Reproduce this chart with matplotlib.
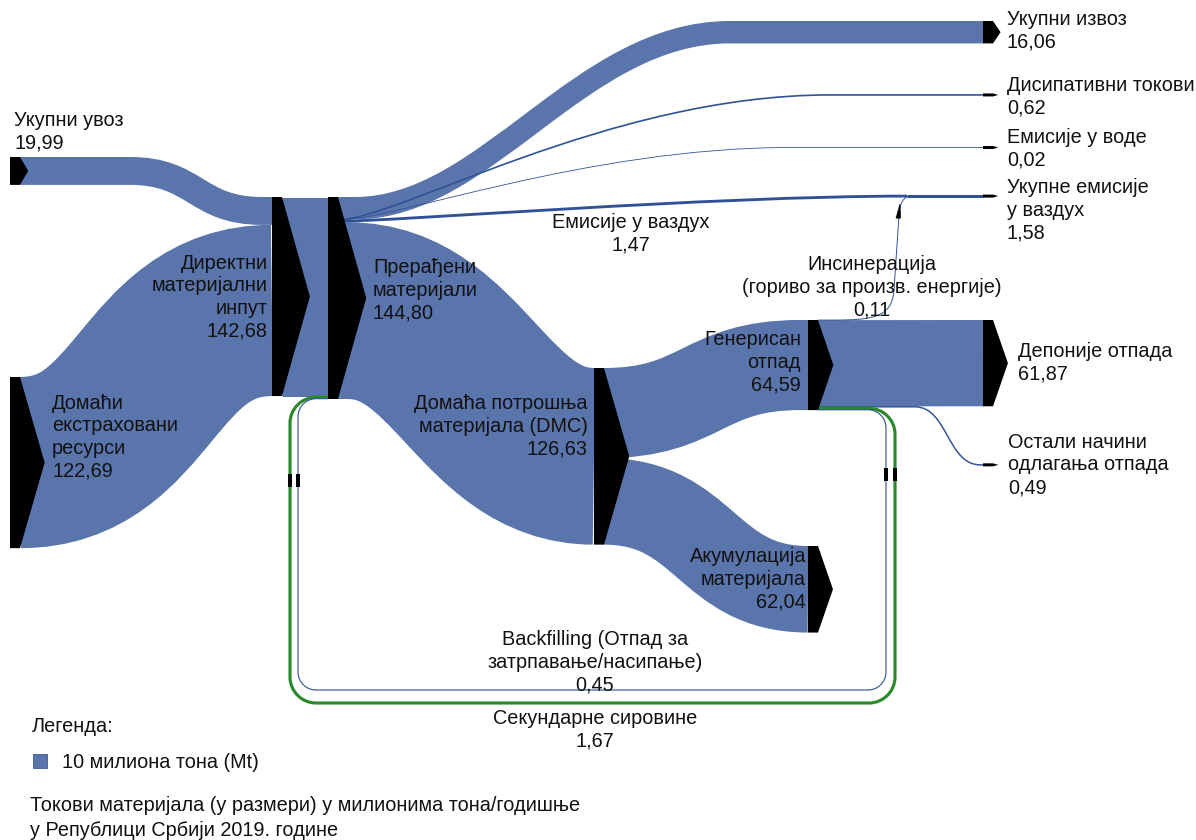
import matplotlib.pyplot as plt
from matplotlib.path import Path
from matplotlib.patches import PathPatch, Polygon, Rectangle

plt.rcParams['font.family'] = ['Liberation Sans', 'DejaVu Sans']

# ---- data (million tonnes) ----
node_keys = ['uvoz', 'domaci', 'dmi', 'preradjeni', 'izvoz', 'disip', 'voda', 'vazduh',
             'dmc', 'otpad', 'akum', 'deponije', 'ostali']
node_labels = ['Укупни увоз', 'Домаћи\nекстраховани\nресурси', 'Директни\nматеријални\nинпут',
               'Прерађени\nматеријали', 'Укупни извоз', 'Дисипативни токови', 'Емисије у воде',
               'Укупне емисије\nу ваздух', 'Домаћа потрошња\nматеријала (DMC)', 'Генерисан\nотпад',
               'Акумулација\nматеријала', 'Депоније отпада', 'Остали начини\nодлагања отпада']
node_values = [19.99, 122.69, 142.68, 144.80, 16.06, 0.62, 0.02, 1.58,
               126.63, 64.59, 62.04, 61.87, 0.49]

flow_from = ['uvoz', 'domaci', 'dmi', 'preradjeni', 'preradjeni', 'preradjeni', 'preradjeni',
             'preradjeni', 'dmc', 'dmc', 'otpad', 'otpad', 'otpad', 'otpad', 'otpad']
flow_to = ['dmi', 'dmi', 'preradjeni', 'izvoz', 'disip', 'voda', 'vazduh', 'dmc',
           'otpad', 'akum', 'vazduh', 'deponije', 'ostali', 'preradjeni', 'preradjeni']
flow_values = [19.99, 122.69, 142.68, 16.06, 0.62, 0.02, 1.47, 126.63,
               64.59, 62.04, 0.11, 61.87, 0.49, 1.67, 0.45]
flow_labels = ['', '', '', '', '', '', 'Емисије у ваздух', '', '', '',
               'Инсинерација\n(гориво за произв. енергије)', '', '',
               'Секундарне сировине', 'Backfilling (Отпад за\nзатрпавање/насипање)']

legend_value = 10
legend_text = '10 милиона тона (Mt)'
footer = ['Токови материјала (у размери) у милионима тона/годишње',
          'у Републици Србији 2019. године']

# ---- layout (pixels) ----
W, H, DPI = 1196, 840, 100
SCALE = 1.395          # px per Mt
BODY = 10
BLUE = '#5a75ab'
LINE_BLUE = '#2f5296'
GREEN = '#2a8a2a'
FS = 14.3
LS = 1.24

node_x = {'uvoz': 10, 'domaci': 10, 'dmi': 272, 'preradjeni': 328, 'izvoz': 983, 'disip': 983,
          'voda': 983, 'vazduh': 983, 'dmc': 594, 'otpad': 808, 'akum': 808, 'deponije': 983,
          'ostali': 983}
node_y = {'uvoz': 157, 'domaci': 377, 'dmi': 197, 'preradjeni': 197, 'izvoz': 21, 'disip': 94.5,
          'voda': 147.5, 'vazduh': 195, 'dmc': 368, 'otpad': 320, 'akum': 546, 'deponije': 320,
          'ostali': 464.5}
label_pos = {'uvoz': (14, 132, 'left'), 'domaci': (52, 437, 'left'), 'dmi': (268, 297, 'right'),
             'preradjeni': (373, 290, 'left'), 'izvoz': (1007, 31, 'left'),
             'disip': (1007, 97, 'left'), 'voda': (1007, 149, 'left'),
             'vazduh': (1007, 210, 'left'), 'dmc': (588, 426, 'right'),
             'otpad': (801, 362, 'right'), 'akum': (806, 579, 'right'),
             'deponije': (1018, 363, 'left'), 'ostali': (1008, 465, 'left')}
flow_label_pos = {6: (631, 234), 10: (872, 287), 13: (595, 730), 14: (595, 662)}
# s-curve routing: straight to xs, bezier to xe, straight to end
curve = {0: (130, 262, 0.5, 0.5), 1: (20, 272, 0.5, 0.5), 3: (355, 730, 0.35, 0.4),
         4: (338, 830, 0.12, 0.45), 5: (338, 790, 0.12, 0.45), 7: (348, 594, 0.45, 0.45),
         8: (604, 800, 0.5, 0.5), 9: (604, 808, 0.5, 0.5), 12: (915, 980, 0.5, 0.5)}
loop = {13: (895, 703, 290, 26), 14: (886, 690, 298, 18)}
JX = 907   # junction of air emissions

fmt = lambda v: f'{v:.2f}'.replace('.', ',')
M, L, C4 = Path.MOVETO, Path.LINETO, Path.CURVE4


def stroke(ax, verts, codes, w, color, z):
    ax.add_patch(PathPatch(Path(verts, codes), fill=False, edgecolor=color, lw=w * 72 / DPI,
                           capstyle='butt', joinstyle='round', zorder=z))


def s_route(x0, y0, x1, y1, xs, xe, k1, k2):
    v, c = [(x0, y0)], [M]
    if xs > x0 + 0.01:
        v.append((xs, y0)); c.append(L)
    span = xe - xs
    v += [(xs + k1 * span, y0), (xe - k2 * span, y1), (xe, y1)]
    c += [C4, C4, C4]
    if x1 > xe + 0.01:
        v.append((x1, y1)); c.append(L)
    return v, c


def loop_route(x0, y0, x1, y1, xr, yb, xl, r):
    k = 0.552 * r
    v = [(x0, y0), (xr - r, y0), (xr - r + k, y0), (xr, y0 + r - k), (xr, y0 + r),
         (xr, yb - r), (xr, yb - r + k), (xr - r + k, yb), (xr - r, yb),
         (xl + r, yb), (xl + r - k, yb), (xl, yb - r + k), (xl, yb - r),
         (xl, y1 + r), (xl, y1 + r - k), (xl + r - k, y1), (xl + r, y1), (x1, y1)]
    c = [M, L, C4, C4, C4, L, C4, C4, C4, L, C4, C4, C4, L, C4, C4, C4, L]
    return v, c


fig = plt.figure(figsize=(W / DPI, H / DPI), dpi=DPI)
ax = fig.add_axes([0, 0, 1, 1])
ax.set_xlim(0, W)
ax.set_ylim(H, 0)
ax.axis('off')

# stack flows on nodes
out_off = {k: 0.0 for k in node_keys}
in_off = {k: 0.0 for k in node_keys}
junction_w = 0.0
for i, (f, t, v) in enumerate(zip(flow_from, flow_to, flow_values)):
    w = v * SCALE
    x0 = node_x[f] + BODY
    y0 = node_y[f] + out_off[f] + w / 2
    out_off[f] += w
    x1 = node_x[t]
    y1 = node_y[t] + in_off[t] + w / 2
    in_off[t] += w
    thin = v < 5
    lw = w + 0.8 if thin else w
    col = LINE_BLUE if thin else BLUE
    z = 3 if thin else 2
    if i in loop:
        xr, yb, xl, r = loop[i]
        verts, codes = loop_route(x0, y0, x1, y1, xr, yb, xl, r)
        col = GREEN if v > 1 else LINE_BLUE
        lw = w + 0.8 if v > 1 else w + 0.5
        stroke(ax, verts, codes, lw, col, 3)
        continue
    if t == 'vazduh':
        jy = node_y['vazduh'] + node_values[node_keys.index('vazduh')] * SCALE / 2
        junction_w += w
        if f == 'preradjeni':
            verts, codes = s_route(x0, y0, JX, jy, x0, JX, 0.1, 0.35)
        else:
            verts = [(x0, y0), (x0 + 14, y0), (x0 + 54, y0), (JX - 15, y0 - 2), (JX - 13, y0 - 30),
                     (JX - 8, jy + 19), (JX - 7, jy + 7), (JX - 4, jy), (JX + 5, jy)]
            codes = [M, L, C4, C4, C4, L, C4, C4, C4]
            ax.add_patch(Polygon([(JX - 11, jy + 22), (JX - 6.5, jy + 22), (JX - 7, jy + 8)],
                                 closed=True, facecolor='black', edgecolor='black', lw=0.5, zorder=4))
        stroke(ax, verts, codes, lw, col, z)
        continue
    if i in curve:
        xs, xe, k1, k2 = curve[i]
        verts, codes = s_route(x0, y0, x1, y1, max(xs, x0), xe, k1, k2)
    else:
        verts, codes = [(x0, y0), (x1, y1)], [M, L]
    stroke(ax, verts, codes, lw, col, z)

# junction to total air emissions node
jy = node_y['vazduh'] + junction_w / 2
stroke(ax, [(JX, jy), (node_x['vazduh'], jy)], [M, L], junction_w + 0.8, LINE_BLUE, 3)

# direction marks on the recycling loops
for i in (13, 14):
    xr, yb, xl, r = loop[i]
    for xm, yy in ((xl, 480), (xr, 474)):
        ax.add_patch(Rectangle((xm - 2.3, yy - 6.5), 4.6, 13, facecolor='black', zorder=4))

# nodes
for k, v in zip(node_keys, node_values):
    h = max(v * SCALE, 3)
    x, y = node_x[k], node_y[k]
    if v * SCALE < 3:
        y -= (3 - v * SCALE) / 2
    d = 5 + 0.115 * h
    ax.add_patch(Polygon([(x, y), (x + BODY, y), (x + BODY + d, y + h / 2), (x + BODY, y + h), (x, y + h)],
                         closed=True, facecolor='black', edgecolor='none', zorder=4))

# labels
for k, lab, v in zip(node_keys, node_labels, node_values):
    x, y, ha = label_pos[k]
    ax.text(x, y, f'{lab}\n{fmt(v)}', ha=ha, va='center', multialignment=ha,
            fontsize=FS, linespacing=LS, color='#111111', zorder=5)
for i, (x, y) in flow_label_pos.items():
    ax.text(x, y, f'{flow_labels[i]}\n{fmt(flow_values[i])}', ha='center', va='center',
            multialignment='center', fontsize=FS, linespacing=LS, color='#111111', zorder=5)

# legend and footer
ax.text(32, 727, 'Легенда:', ha='left', va='center', fontsize=FS, color='#111111')
lsz = legend_value * SCALE
ax.add_patch(Rectangle((33, 761 - lsz / 2), lsz, lsz, facecolor=BLUE, edgecolor='#3c5a94', lw=0.6))
ax.text(62, 762, legend_text, ha='left', va='center', fontsize=FS, color='#111111')
ax.text(30, 805, footer[0], ha='left', va='center', fontsize=FS, color='#111111')
ax.text(30, 830, footer[1], ha='left', va='center', fontsize=FS, color='#111111')

fig.savefig('out.png', dpi=DPI)
